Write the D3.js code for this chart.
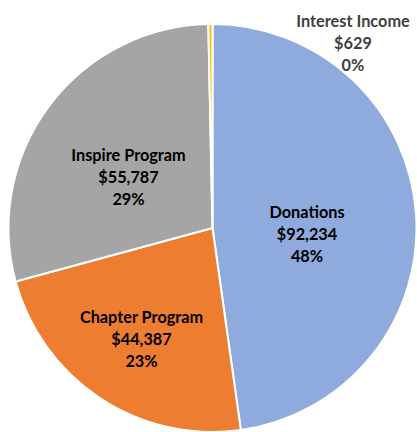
<!DOCTYPE html>
<html>
<head>
<meta charset="utf-8">
<script src="https://cdn.jsdelivr.net/npm/d3@7"></script>
<style>
  html, body { margin: 0; padding: 0; background: #fff; }
  svg { display: block; }
</style>
</head>
<body>
<svg id="chart" width="417" height="432"></svg>
<script>
// data
const categories = ["Donations", "Chapter Program", "Inspire Program", "Interest Income"];
const amounts = [92234, 44387, 55787, 629];
const amountLabels = ["$92,234", "$44,387", "$55,787", "$629"];
const percentLabels = ["48%", "23%", "29%", "0%"];

const colors = ["#8FAADC", "#ED7D31", "#A5A5A5", "#FFC000"];
const textColors = ["#000", "#000", "#000", "#404040"];

const width = 417, height = 432;
const cx = 212.5, cy = 228, radius = 204;

// label block placement (middle line baseline), relative to pie centre
const labelPlace = [
  [94.5, 12],
  [-71, 117],
  [-84, -45],
  [140.5, -179]
];

const svg = d3.select("#chart");
const g = svg.append("g").attr("transform", `translate(${cx},${cy})`);

const pie = d3.pie().sort(null).value(d => d)(amounts);
const arc = d3.arc().innerRadius(0).outerRadius(radius);

g.selectAll("path.slice")
  .data(pie)
  .enter()
  .append("path")
  .attr("class", "slice")
  .attr("d", arc)
  .attr("fill", (d, i) => colors[i])
  .attr("stroke", "#fff")
  .attr("stroke-width", 2)
  .attr("stroke-linejoin", "round");

const lineH = 22.3;

const labels = g.selectAll("text.lbl")
  .data(pie)
  .enter()
  .append("text")
  .attr("class", "lbl")
  .attr("text-anchor", "middle")
  .attr("font-family", "Lato, 'Open Sans', sans-serif")
  .attr("font-weight", "bold")
  .attr("font-size", "16.3px")
  .attr("fill", (d, i) => textColors[i])
  .attr("transform", (d, i) => `translate(${labelPlace[i][0]},${labelPlace[i][1]})`);

labels.each(function(d, i) {
  const t = d3.select(this);
  const lines = [categories[i], amountLabels[i], percentLabels[i]];
  lines.forEach((s, k) => {
    t.append("tspan")
      .attr("x", 0)
      .attr("y", (k - 1) * lineH)
      .text(s);
  });
});
</script>
</body>
</html>
